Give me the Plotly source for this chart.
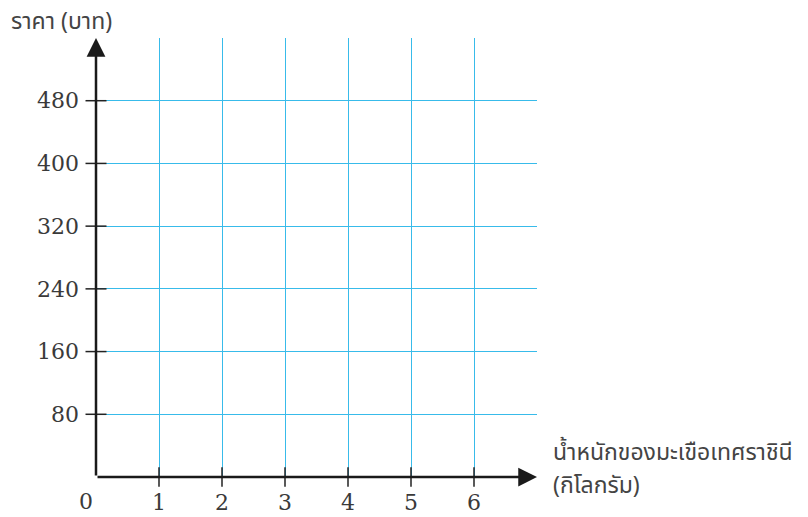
import plotly.graph_objects as go

# ---- data (ticks of an empty graph grid) ----
x_ticks = [1, 2, 3, 4, 5, 6]
y_ticks = [80, 160, 240, 320, 400, 480]
x_max = 7
y_max = 560
y_title = "ราคา (บาท)"
x_title_1 = "น้ำหนักของมะเขือเทศราชินี"
x_title_2 = "(กิโลกรัม)"

# the page body has an 8px margin, so the figure is offset by 8px
OFF = 8
W, H = 808 - OFF, 517 - OFF
L, R, T, B = 96 - OFF, 271, 38 - OFF, 40
GRID = "#38bbea"
TXT = "#3a3a3a"
TICKFONT = dict(family="DejaVu Serif", size=22, color=TXT)
THAIFONT = dict(family="Noto Sans Thai, Noto Sans Thai UI, Loma, Garuda, Noto Sans, sans-serif",
                size=23, color="#444444")

def px_to_paper_x(px):
    return (px - OFF - L) / (W - L - R)

def px_to_paper_y(py):
    return (H - B - (py - OFF)) / (H - T - B)

fig = go.Figure()

# tick marks crossing the axes
fig.add_trace(go.Scatter(
    x=x_ticks, y=[0] * len(x_ticks), mode="markers",
    marker=dict(symbol="line-ns-open", size=14, color="#222",
                line=dict(color="#222", width=1.5)),
    hoverinfo="skip", showlegend=False, cliponaxis=False))
fig.add_trace(go.Scatter(
    x=[0] * len(y_ticks), y=y_ticks, mode="markers",
    marker=dict(symbol="line-ew-open", size=15, color="#222",
                line=dict(color="#222", width=1.5)),
    hoverinfo="skip", showlegend=False, cliponaxis=False))

annotations = []
# axes as arrows
for (xt, yt) in [(x_max, 0), (0, y_max)]:
    annotations.append(dict(x=xt, y=yt, ax=0, ay=0, xref="x", yref="y", axref="x", ayref="y",
                            showarrow=True, arrowhead=2, arrowsize=1.5, arrowwidth=2.5,
                            arrowcolor="#1a1a1a", text=""))
# origin label
annotations.append(dict(x=0, y=0, xref="x", yref="y", text="0", showarrow=False,
                        xanchor="center", yanchor="middle", xshift=-10, yshift=-24,
                        font=TICKFONT))
# titles
annotations.append(dict(x=px_to_paper_x(9), y=px_to_paper_y(22), xref="paper", yref="paper",
                        text=y_title, showarrow=False, xanchor="left", yanchor="middle",
                        font=THAIFONT))
annotations.append(dict(x=px_to_paper_x(551), y=px_to_paper_y(453), xref="paper", yref="paper",
                        text=x_title_1, showarrow=False, xanchor="left", yanchor="middle",
                        font=THAIFONT))
annotations.append(dict(x=px_to_paper_x(551), y=px_to_paper_y(486), xref="paper", yref="paper",
                        text=x_title_2, showarrow=False, xanchor="left", yanchor="middle",
                        font=THAIFONT))

fig.update_layout(
    width=W, height=H,
    margin=dict(l=L, r=R, t=T, b=B, autoexpand=False),
    plot_bgcolor="white", paper_bgcolor="white",
    annotations=annotations,
    xaxis=dict(range=[0, x_max], tickvals=x_ticks + [x_max],
               ticktext=[str(v) for v in x_ticks] + [""],
               showgrid=True, gridcolor=GRID, gridwidth=1.3, zeroline=False,
               showline=False, ticks="", tickfont=TICKFONT, fixedrange=True,
               ticklabelstandoff=10, automargin=False),
    yaxis=dict(range=[0, y_max], tickvals=y_ticks + [y_max],
               ticktext=[str(v) for v in y_ticks] + [""],
               showgrid=True, gridcolor=GRID, gridwidth=1.3, zeroline=False,
               showline=False, ticks="", tickfont=TICKFONT, fixedrange=True,
               ticklabelstandoff=16, automargin=False),
)

fig.write_html("out.html")
